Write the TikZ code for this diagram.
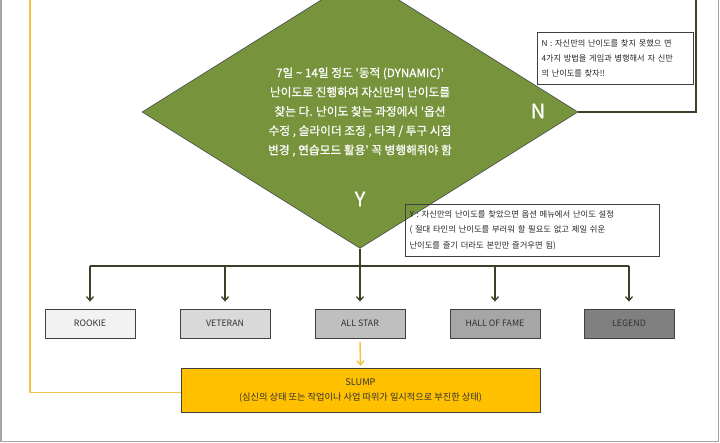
\documentclass[tikz,border=0pt]{standalone}
\usepackage{fontspec}
\setmainfont{Noto Sans CJK KR}
\newfontfamily\diafont[FakeBold=0.6]{Noto Sans CJK KR}
\usetikzlibrary{shapes.geometric,arrows.meta}
\definecolor{olivefill}{RGB}{119,147,60}
\definecolor{connc}{RGB}{62,62,38}
\definecolor{yelc}{RGB}{255,192,0}
\definecolor{yline}{RGB}{245,195,70}
\definecolor{framec}{RGB}{165,165,165}
\definecolor{txtc}{RGB}{50,50,50}
\tikzset{
  conn/.style={draw=connc, line width=1.3pt},
  arr/.style={conn, -{Straight Barb[length=4pt,width=7pt]}, shorten >=7pt},
  lvlbox/.style={draw=black!75, line width=0.8pt, minimum width=90pt, minimum height=29pt, inner sep=0pt, text=txtc, font=\fontsize{8.8}{10}\selectfont},
  notebox/.style={draw=black!75, line width=0.7pt, align=left, inner sep=0pt, text=black!85},
  bigl/.style={text=white, font=\diafont\fontsize{20}{22}\selectfont},
}
\begin{document}
\begin{tikzpicture}[x=1pt,y=-1pt]
\useasboundingbox (0,0) rectangle (720,443);
\fill[white] (0,0) rectangle (720,443);
% frame
\draw[framec, line width=1.6pt] (1,0) -- (1,441.5) -- (718.5,441.5) -- (718.5,0);
% decision diamond
\node[diamond, draw=black!70, line width=0.6pt, fill=olivefill, minimum width=436pt, minimum height=222pt, inner sep=0pt, text=white, align=center, font=\diafont\fontsize{11.7}{19.3}\selectfont] (dia) at (360,112)
 {7일 \textasciitilde{} 14일 정도 '동적 (DYNAMIC)'\\난이도로 진행하여 자신만의 난이도를\\찾는 다. 난이도 찾는 과정에서 '옵션\\수정 , 슬라이더 조정 , 타격 / 투구 시점\\변경 , 연습모드 활용' 꼭 병행해줘야 함};
\node[bigl] (nlab) at (538,111) {N};
\node[bigl] (ylab) at (360,199) {Y};
% notes
\node[notebox, minimum width=156pt, minimum height=52pt, text width=147pt, font=\fontsize{8.2}{15}\selectfont] (nnote) at (615,58)
 {N : 자신만의 난이도를 찾지 못했으 면\\4가지 방법을 게임과 병행해서 자 신만\\의 난이도를 찾자!!};
\node[notebox, minimum width=254pt, minimum height=52pt, text width=245pt, font=\fontsize{8.3}{15.5}\selectfont] (ynote) at (532,230)
 {Y : 자신만의 난이도를 찾았으면 옵션 메뉴에서 난이도 설정\\( 절대 타인의 난이도를 부러워 할 필요도 없고 제일 쉬운\\난이도를 즐기 더라도 본인만 즐거우면 됨)};
% level boxes
\node[lvlbox, fill=black!5] (rookie) at (90,323.5) {ROOKIE};
\node[lvlbox, fill=black!15] (veteran) at (225,323.5) {VETERAN};
\node[lvlbox, fill=black!25] (allstar) at (360,323.5) {ALL STAR};
\node[lvlbox, fill=black!35] (hof) at (495,323.5) {HALL OF FAME};
\node[lvlbox, fill=black!50] (legend) at (629,323.5) {LEGEND};
% slump
\node[draw=black!75, line width=0.8pt, fill=yelc, minimum width=359pt, minimum height=44.5pt, inner sep=0pt, align=center, text=txtc, font=\fontsize{9.2}{14.7}\selectfont] (slump) at (360.5,390.5)
 {SLUMP\\(심신의 상태 또는 작업이나 사업 따위가 일시적으로 부진한 상태)};
% connectors
\coordinate (bar) at (360,266);
\coordinate (ntop) at (696,0);
\coordinate (ytop) at (30,0);
\draw[conn] (dia.east) -| (ntop);
\draw[conn] (rookie.north |- bar) -- (legend.north |- bar);
\draw[arr] (dia.south) -- (allstar.north);
\draw[arr] (rookie.north |- bar) -- (rookie.north);
\draw[arr] (veteran.north |- bar) -- (veteran.north);
\draw[arr] (hof.north |- bar) -- (hof.north);
\draw[arr] (legend.north |- bar) -- (legend.north);
\draw[yline, line width=1.5pt, -{Straight Barb[length=4pt,width=7pt]}, shorten <=3.5pt, shorten >=2pt] (allstar.south) -- (slump.north);
\draw[yline, line width=1.5pt] (ytop) |- ([yshift=-2pt]slump.west);
\end{tikzpicture}
\end{document}
